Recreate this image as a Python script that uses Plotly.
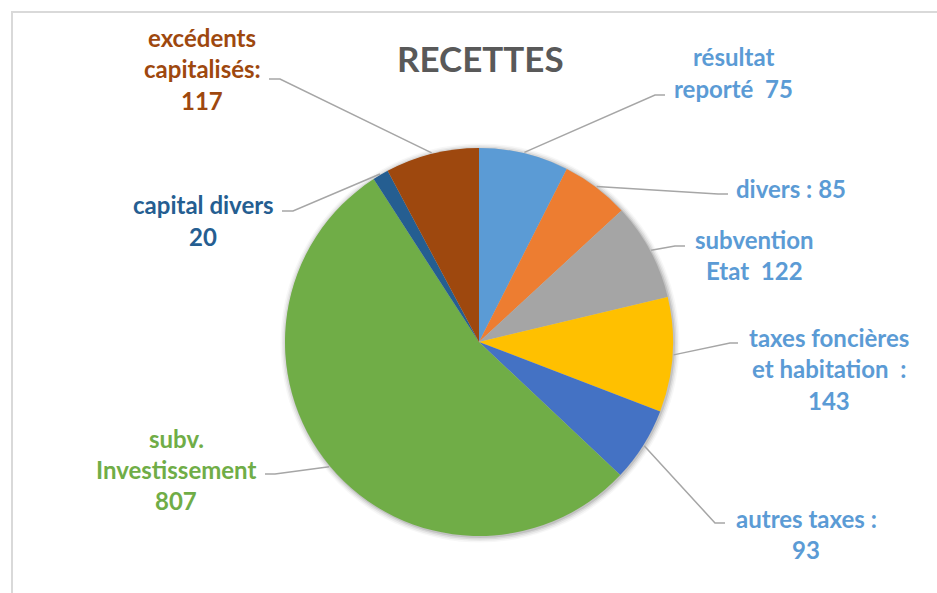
import math
import plotly.graph_objects as go

# ---------------- data ----------------
names = ["résultat reporté", "divers", "subvention Etat", "taxes foncières et habitation",
         "autres taxes", "subv. Investissement", "capital divers", "excédents capitalisés"]
# slice sizes as drawn in the picture
values = [112, 85, 122, 143, 93, 807, 20, 117]
# label texts as printed in the picture
label_lines = [
    ["résultat", "reporté\u00a0\u00a075"],
    ["divers : 85"],
    ["subvention", "Etat\u00a0\u00a0122"],
    ["taxes foncières", "et habitation\u00a0\u00a0:", "143"],
    ["autres taxes :", "93"],
    ["subv.", "Investissement", "807"],
    ["capital divers", "20"],
    ["excédents", "capitalisés:", "117"],
]
slice_colors = ["#5B9BD5", "#ED7D31", "#A5A5A5", "#FFC000", "#4472C4", "#70AD47", "#255E91", "#9E480E"]
label_colors = ["#5B9BD5", "#5B9BD5", "#5B9BD5", "#5B9BD5", "#5B9BD5", "#70AD47", "#255E91", "#9E480E"]
title_text = "RECETTES"

# ---------------- layout constants (pixels) ----------------
W, H = 937, 593
CX, CY, R = 479, 342, 194
LINE_H = 31.5
label_pos = [(733, 57), (791, 189), (754, 239), (829, 337), (806, 518), (176, 438), (203, 205), (202, 37)]
elbows = [((655, 95), (665, 95)), ((718, 194), (728, 194)), ((675, 246), (685, 246)),
          ((730, 343), (738, 343)), ((715, 523), (725, 523)), ((275, 474), (265, 474)),
          ((293, 211), (282, 211)), ((280, 79), (269, 79))]
FONT = "Lato, 'Open Sans', sans-serif"


def px(x):
    return x / W


def py(y):
    return 1 - y / H


fig = go.Figure(go.Pie(
    labels=names, values=values, sort=False, direction="clockwise", rotation=0,
    marker=dict(colors=slice_colors, line=dict(width=0)),
    textinfo="none", hoverinfo="label+value", showlegend=False,
    domain=dict(x=[px(CX - R), px(CX + R)], y=[py(CY + R), py(CY - R)]),
))

shapes = []
# frame
shapes.append(dict(type="rect", xref="paper", yref="paper",
                   x0=px(12), x1=px(W + 10), y0=py(H + 10), y1=py(12),
                   line=dict(color="#D9D9D9", width=2), layer="below"))
# soft shadow around pie
for i, op in enumerate([0.10, 0.07, 0.05, 0.03]):
    rr = R + 1 + i * 1.5
    shapes.append(dict(type="circle", xref="paper", yref="paper",
                       x0=px(CX - rr + 1), x1=px(CX + rr + 1), y0=py(CY + rr + 1), y1=py(CY - rr + 1),
                       fillcolor="rgba(0,0,0,%.2f)" % op, line=dict(width=0), layer="below"))

# leader lines starting at slice mid-angles
total = sum(values)
cum = 0
for i, v in enumerate(values):
    mid = (cum + v / 2) / total * 2 * math.pi
    cum += v
    sx = CX + (R + 1) * math.sin(mid)
    sy = CY - (R + 1) * math.cos(mid)
    (ex, ey), (fx, fy) = elbows[i]
    path = "M %f %f L %f %f L %f %f" % (px(sx), py(sy), px(ex), py(ey), px(fx), py(fy))
    shapes.append(dict(type="path", xref="paper", yref="paper", path=path,
                       line=dict(color="#A6A6A6", width=1.5)))

annotations = []
for lines, (lx, ly), col in zip(label_lines, label_pos, label_colors):
    for k, t in enumerate(lines):
        annotations.append(dict(text=t, x=px(lx), y=py(ly + k * LINE_H), xref="paper", yref="paper",
                                xanchor="center", yanchor="middle", showarrow=False,
                                font=dict(family=FONT, size=24, color=col, weight=700)))
annotations.append(dict(text=title_text, x=px(480), y=py(58), xref="paper", yref="paper",
                        xanchor="center", yanchor="middle", showarrow=False,
                        font=dict(family=FONT, size=35, color="#595959", weight=700)))

fig.update_layout(width=W, height=H, margin=dict(l=0, r=0, t=0, b=0),
                  paper_bgcolor="white", plot_bgcolor="white",
                  shapes=shapes, annotations=annotations)

fig.write_html("out.html", config={"displayModeBar": False},
               post_script="document.body.style.margin='0';document.body.style.overflow='hidden';")
